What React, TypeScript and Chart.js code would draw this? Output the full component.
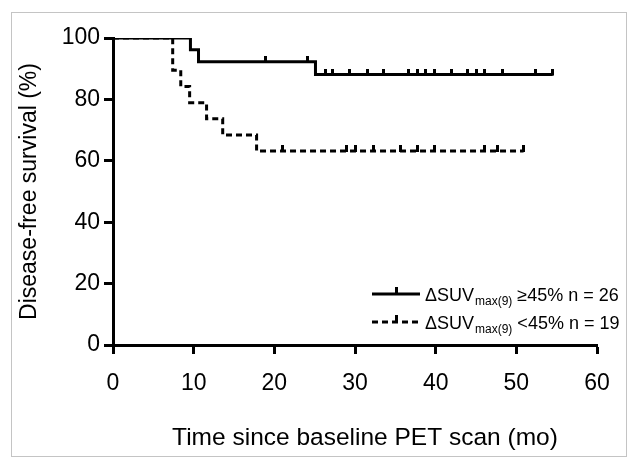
import React, { useEffect, useRef } from "react";
import { Chart, registerables } from "chart.js";

Chart.register(...registerables);

// ---- Data ----
// Group ΔSUVmax(9) ≥45%, n = 26 : event times (mo) and survival (%) after each step
const highTimes = [0, 9.6, 10.6, 25.1, 54.5];
const highSurv = [100, 96.2, 92.3, 88.1, 88.1];
// censored observations (tick marks)
const highCensorTimes = [18.9, 24.1, 26.3, 27.2, 29.3, 31.5, 33.5, 36.6, 37.8, 38.8, 39.8, 42.0, 44.0, 45.1, 46.1, 48.3, 52.4, 54.5];
const highCensorSurv = [92.3, 92.3, 88.1, 88.1, 88.1, 88.1, 88.1, 88.1, 88.1, 88.1, 88.1, 88.1, 88.1, 88.1, 88.1, 88.1, 88.1, 88.1];

// Group ΔSUVmax(9) <45%, n = 19
const lowTimes = [0, 7.4, 8.4, 9.5, 11.6, 13.6, 17.8, 50.9];
const lowSurv = [100, 89.5, 84.2, 78.9, 73.7, 68.4, 63.2, 63.2];
const lowCensorTimes = [21.0, 29.0, 30.0, 32.3, 35.6, 37.7, 39.9, 46.1, 47.7, 50.9];
const lowCensorSurv = [63.2, 63.2, 63.2, 63.2, 63.2, 63.2, 63.2, 63.2, 63.2, 63.2];

const xTicks = [0, 10, 20, 30, 40, 50, 60];
const yTicks = [0, 20, 40, 60, 80, 100];

const xTitle = "Time since baseline PET scan (mo)";
const yTitle = "Disease-free survival (%)";
const legendMain = "\u0394SUV";
const legendSub = "max(9)";
const legendRest = [" \u226545% n = 26", " <45% n = 19"];

const FONT = '"Liberation Sans", Arial, Helvetica, sans-serif';

function pts(xs: number[], ys: number[]) {
  return xs.map((x, i) => ({ x, y: ys[i] }));
}

function makeTick(): HTMLCanvasElement {
  const c = document.createElement("canvas");
  c.width = 3;
  c.height = 12;
  const g = c.getContext("2d")!;
  g.fillStyle = "#000";
  g.fillRect(0, 0, 3, 7);
  return c;
}

export default function App() {
  const ref = useRef<HTMLCanvasElement | null>(null);

  useEffect(() => {
    const canvas = ref.current;
    if (!canvas) return;
    const tick = makeTick();

    const legendPlugin = {
      id: "kmLegend",
      afterDraw(chart: any) {
        const ctx = chart.ctx as CanvasRenderingContext2D;
        ctx.save();
        // x-axis title
        ctx.fillStyle = "#000";
        ctx.font = "24.5px " + FONT;
        ctx.textAlign = "center";
        ctx.textBaseline = "middle";
        ctx.fillText(xTitle, 365, 438);

        const rows = [
          { y: 294, dash: [] as number[] },
          { y: 322, dash: [6, 4] },
        ];
        rows.forEach((r, i) => {
          ctx.strokeStyle = "#000";
          ctx.lineWidth = 3;
          ctx.setLineDash(r.dash);
          ctx.beginPath();
          ctx.moveTo(372, r.y);
          ctx.lineTo(420, r.y);
          ctx.stroke();
          ctx.setLineDash([]);
          ctx.fillStyle = "#000";
          ctx.fillRect(395, r.y - 7, 3, 7);
          ctx.textBaseline = "alphabetic";
          ctx.textAlign = "left";
          ctx.font = "18px " + FONT;
          let x = 425;
          const base = r.y + 7;
          ctx.fillText(legendMain, x, base);
          x += ctx.measureText(legendMain).width;
          ctx.font = "12px " + FONT;
          ctx.fillText(legendSub, x + 1, base + 4);
          x += ctx.measureText(legendSub).width + 1;
          ctx.font = "18px " + FONT;
          ctx.fillText(legendRest[i], x, base);
        });
        ctx.restore();
      },
    };

    const lineBase = {
      type: "line" as const,
      borderColor: "#000",
      backgroundColor: "#000",
      borderWidth: 3,
      pointRadius: 0,
      stepped: true,
      fill: false,
    };
    const censorBase = {
      type: "line" as const,
      showLine: false,
      pointStyle: tick,
      pointRadius: 3,
      borderColor: "#000",
      backgroundColor: "#000",
    };

    const chart = new Chart(canvas, {
      type: "line",
      data: {
        datasets: [
          { ...lineBase, label: "low", data: pts(lowTimes, lowSurv), borderDash: [6, 4] },
          { ...lineBase, label: "high", data: pts(highTimes, highSurv) },
          { ...censorBase, label: "highC", data: pts(highCensorTimes, highCensorSurv) },
          { ...censorBase, label: "lowC", data: pts(lowCensorTimes, lowCensorSurv) },
        ] as any,
      },
      options: {
        animation: false,
        responsive: false,
        devicePixelRatio: 1,
        layout: { padding: { left: 0, right: 40, top: 38, bottom: 0 } },
        plugins: {
          legend: { display: false },
          tooltip: { enabled: false },
        },
        scales: {
          x: {
            type: "linear",
            min: 0,
            max: 60,
            afterFit: (s: any) => {
              s.height = 122;
            },
            afterBuildTicks: (s: any) => {
              s.ticks = xTicks.map((v) => ({ value: v }));
            },
            border: { display: true, color: "#000", width: 3 },
            grid: { display: true, drawOnChartArea: false, drawTicks: true, tickLength: 9, tickWidth: 3, tickColor: "#000" },
            ticks: { color: "#000", font: { family: FONT, size: 23 }, padding: 16, maxRotation: 0 },
            title: { display: false },
          },
          y: {
            type: "linear",
            min: 0,
            max: 100,
            afterFit: (s: any) => {
              s.width = 113;
            },
            afterBuildTicks: (s: any) => {
              s.ticks = yTicks.map((v) => ({ value: v }));
            },
            border: { display: true, color: "#000", width: 3 },
            grid: { display: true, drawOnChartArea: false, drawTicks: true, tickLength: 9, tickWidth: 3, tickColor: "#000" },
            ticks: { color: "#000", font: { family: FONT, size: 23 }, padding: 4 },
            title: {
              display: true,
              text: yTitle,
              color: "#000",
              font: { family: FONT, size: 23 },
              padding: { top: 16, bottom: 0 },
            },
          },
        },
      } as any,
      plugins: [legendPlugin],
    });
    return () => chart.destroy();
  }, []);

  return (
    <div style={{ position: "absolute", left: 0, top: 0, width: 637, height: 467, background: "#fff" }}>
      <canvas ref={ref} width={637} height={467} style={{ position: "absolute", left: 0, top: 0, width: 637, height: 467 }} />
      <div
        style={{
          position: "absolute",
          left: 11,
          top: 12,
          width: 616,
          height: 445,
          border: "1px solid #c4c4c4",
          boxSizing: "border-box",
          pointerEvents: "none",
        }}
      />
    </div>
  );
}
